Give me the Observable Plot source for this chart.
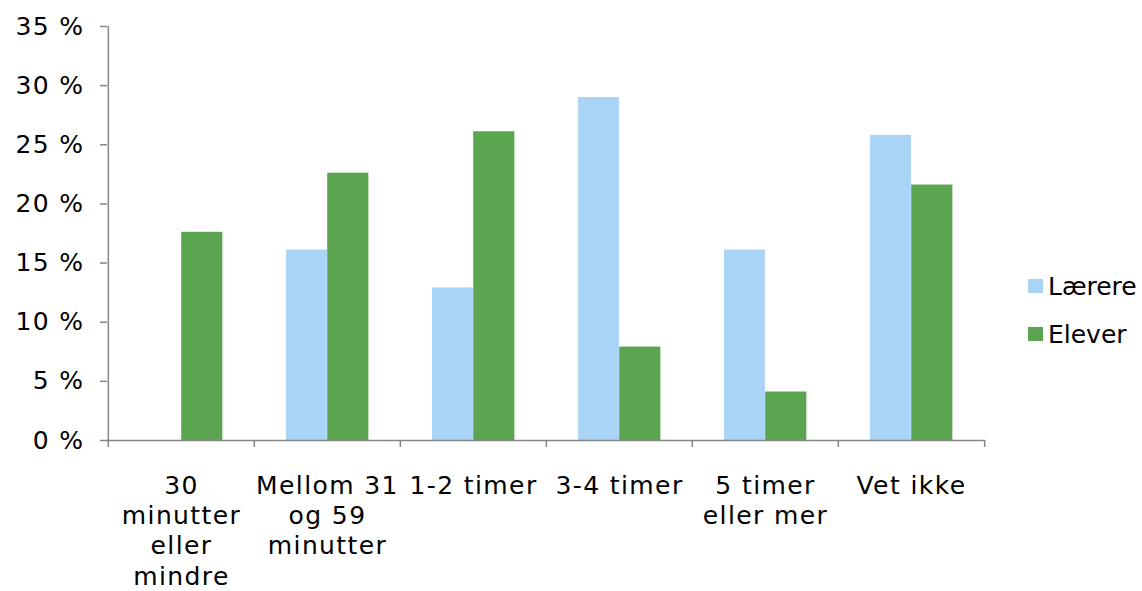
<!DOCTYPE html>
<html>
<head>
<meta charset="utf-8">
<script src="https://cdn.jsdelivr.net/npm/d3@7"></script>
<script src="https://cdn.jsdelivr.net/npm/@observablehq/plot@0.6"></script>
<style>
  html, body { margin: 0; padding: 0; background: #fff; }
  #wrap { position: relative; width: 1142px; height: 591px; overflow: hidden; font-family: "DejaVu Sans", Verdana, sans-serif; }
  #wrap svg text { letter-spacing: 1.4px; }
  #legend { position: absolute; left: 1028px; top: 262px; font-size: 25px; color: #000; line-height: 1; }
  .item { display: flex; align-items: center; height: 48px; }
  .sw { width: 15px; height: 14px; margin-right: 5px; flex: none; }
</style>
</head>
<body>
<div id="wrap"></div>
<script>
const categories = ["30 minutter eller mindre", "Mellom 31 og 59 minutter", "1-2 timer", "3-4 timer", "5 timer eller mer", "Vet ikke"];
const tickLabels = ["30\nminutter\neller\nmindre", "Mellom 31\nog 59\nminutter", "1-2 timer", "3-4 timer", "5 timer\neller mer", "Vet ikke"];
const laerere = [0, 16.1, 12.9, 29.0, 16.1, 25.8];
const elever = [17.6, 22.6, 26.1, 7.9, 4.1, 21.6];
const yTicks = [0, 5, 10, 15, 20, 25, 30, 35];
const seriesNames = ["Lærere", "Elever"];
const seriesColors = ["#A9D4F5", "#5BA551"];

const W = 1142, H = 591;
const mL = 107, mR = 157, mT = 26, mB = 151;
const bw = (W - mL - mR) / categories.length;
const gray = "#868686";

const rowsL = categories.map((c, i) => ({cat: c, value: laerere[i]}));
const rowsE = categories.map((c, i) => ({cat: c, value: elever[i]}));
const labelOf = new Map(categories.map((c, i) => [c, tickLabels[i]]));

const chart = Plot.plot({
  width: W, height: H,
  marginLeft: mL, marginRight: mR, marginTop: mT, marginBottom: mB,
  style: {fontFamily: "'DejaVu Sans', Verdana, sans-serif", fontSize: "25px", color: "#000", background: "#fff", overflow: "visible"},
  x: {domain: categories, padding: 0, label: null},
  y: {domain: [0, 35], label: null},
  marks: [
    Plot.barY(rowsL, {x: "cat", y: "value", fill: seriesColors[0], insetLeft: 32, insetRight: bw - 73.2}),
    Plot.barY(rowsE, {x: "cat", y: "value", fill: seriesColors[1], insetLeft: 73.2, insetRight: bw - 73.2 - 41.5}),
    Plot.ruleY([0], {stroke: gray, strokeWidth: 1.5}),
    Plot.ruleX([categories[0]], {dx: -bw / 2, y1: 0, y2: 35, stroke: gray, strokeWidth: 1.5}),
    Plot.ruleX(categories, {dx: -bw / 2, y1: 0, y2: 0, insetBottom: -7, stroke: gray, strokeWidth: 1.5}),
    Plot.ruleX([categories[categories.length - 1]], {dx: bw / 2, y1: 0, y2: 0, insetBottom: -7, stroke: gray, strokeWidth: 1.5}),
    Plot.axisY({ticks: yTicks, tickFormat: d => d + " %", tickSize: 7, tickPadding: 16, stroke: gray, fill: "#000", strokeWidth: 1.5, label: null, fontSize: 25}),
    Plot.axisX({tickSize: 0, tickPadding: 32, tickFormat: d => labelOf.get(d), lineHeight: 1.21, fill: "#000", label: null, fontSize: 25})
  ]
});

const wrap = document.getElementById("wrap");
wrap.appendChild(chart);

const legend = document.createElement("div");
legend.id = "legend";
seriesNames.forEach((n, i) => {
  const it = document.createElement("div");
  it.className = "item";
  const sw = document.createElement("span");
  sw.className = "sw";
  sw.style.background = seriesColors[i];
  const tx = document.createElement("span");
  tx.textContent = n;
  it.appendChild(sw);
  it.appendChild(tx);
  legend.appendChild(it);
});
wrap.appendChild(legend);
</script>
</body>
</html>
